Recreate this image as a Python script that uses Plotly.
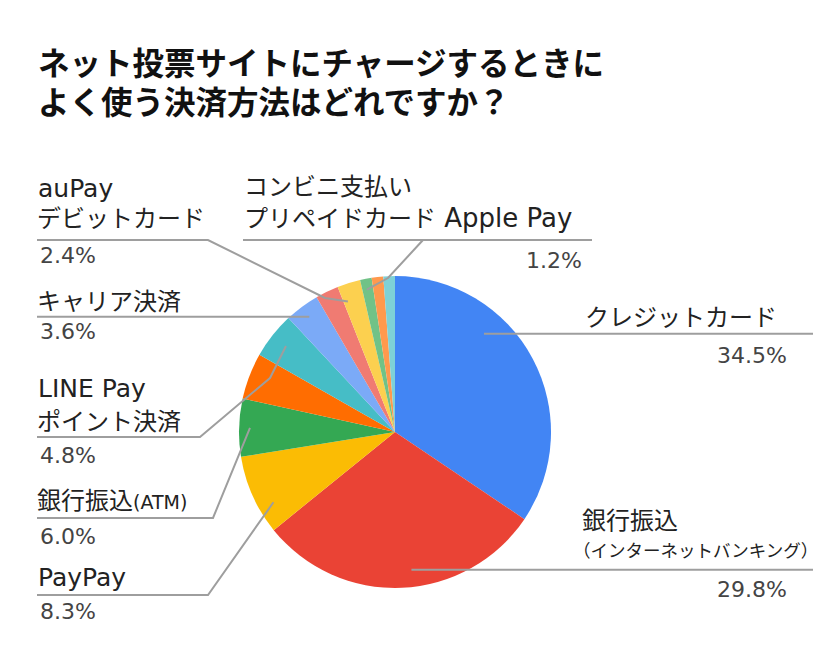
import math
import plotly.graph_objects as go

# data
labels = ["クレジットカード", "銀行振込（インターネットバンキング）", "PayPay", "銀行振込（ATM）",
          "LINE Pay", "ポイント決済", "キャリア決済", "auPay", "デビットカード",
          "コンビニ支払い", "プリペイドカード", "Apple Pay"]
values = [34.5, 29.8, 8.3, 6.0, 4.8, 4.8, 3.6, 2.4, 2.4, 1.2, 1.2, 1.2]
colors = ["#4285F4", "#EA4335", "#FBBC04", "#34A853", "#FF6D01", "#46BDC6",
          "#7BAAF7", "#F07B72", "#FCD04F", "#71C287", "#FF994D", "#7ED1D7"]
title_lines = ["ネット投票サイトにチャージするときに", "よく使う決済方法はどれですか？"]

W, H = 840, 655
CX, CY, R = 395, 432, 156
FONT = "DejaVu Sans, Noto Sans CJK JP, sans-serif"
LINE_COL = "#9E9E9E"


def px(x):
    return x / W


def py(y):
    return 1 - y / H


total = sum(values)
starts = []
acc = 0
for v in values:
    starts.append(acc)
    acc += v


def anchor(i, frac, rf):
    ang = 2 * math.pi * (starts[i] + frac * values[i]) / total
    return CX + rf * R * math.sin(ang), CY - rf * R * math.cos(ang)


def pct(i):
    return f"{values[i]:.1f}%"


fig = go.Figure(go.Pie(
    labels=labels, values=values, sort=False, direction="clockwise", rotation=0,
    marker=dict(colors=colors, line=dict(width=0)),
    textinfo="none", hoverinfo="label+percent", showlegend=False,
    domain=dict(x=[px(CX - R), px(CX + R)], y=[py(CY + R), py(CY - R)]),
))

# callouts: slice to point at, where in the slice, leader path, texts
callouts = [
    dict(s=0, frac=0.34, rf=0.85, path=[("h", 813)],
         texts=[("クレジットカード", 583, 318, 24, "left")],
         p=(789, 355, "right")),
    dict(s=1, frac=0.46, rf=0.89, path=[("h", 813)],
         texts=[("銀行振込", 580, 521, 24, "left"),
                ("（インターネットバンキング）", 571, 551, 17.5, "left")],
         p=(789, 589, "right")),
    dict(s=2, frac=0.3, rf=0.9, path=[(208, 595), (37, 595)],
         texts=[("PayPay", 36, 577, 25, "left")],
         p=(38, 611, "left")),
    dict(s=3, frac=0.5, rf=0.93, path=[(213, 518), (37, 518)],
         texts=[("銀行振込<span style='font-size:19px'>(ATM)</span>", 35, 501, 24, "left")],
         p=(38, 536, "left")),
    dict(s=5, frac=0.5, rf=0.89, path=[(270, 378), (200, 437), (37, 437)],
         texts=[("LINE Pay", 36, 388, 25, "left"), ("ポイント決済", 35, 422, 24, "left")],
         p=(38, 455, "left")),
    dict(s=6, frac=0.5, rf=0.92, path=[("h", 37)],
         texts=[("キャリア決済", 35, 302, 24, "left")],
         p=(38, 331, "left")),
    dict(s=8, frac=0.2, rf=0.89, path=[(325, 298), (208, 240), (37, 240)],
         texts=[("auPay", 36, 189, 25, "left"), ("デビットカード", 35, 219, 24, "left")],
         p=(38, 255, "left")),
    dict(s=9, frac=0.4, rf=0.93, path=[(388, 278), (423, 240)],
         texts=[("コンビニ支払い", 242, 187, 24, "left"),
                ("プリペイドカード<span style='font-size:26px'> Apple Pay</span>", 242, 218, 24, "left")],
         p=(584, 260, "right"), extra=[(243, 240), (592, 240)]),
]

shapes = []
annotations = []
for c in callouts:
    ax, ay = anchor(c["s"], c["frac"], c["rf"])
    pts = [(ax, ay)]
    for q in c["path"]:
        if q[0] == "h":
            pts.append((q[1], pts[-1][1]))
        else:
            pts.append(q)
    segs = [pts]
    if "extra" in c:
        segs.append(c["extra"])
    for seg in segs:
        d = "M " + " L ".join(f"{px(x):.5f},{py(y):.5f}" for x, y in seg)
        shapes.append(dict(type="path", path=d, xref="paper", yref="paper",
                           line=dict(color=LINE_COL, width=2)))
    for t, x, y, size, anc in c["texts"]:
        annotations.append(dict(text=t, x=px(x), y=py(y), xref="paper", yref="paper",
                                xanchor=anc, yanchor="middle", showarrow=False,
                                font=dict(family=FONT, size=size, color="#222222")))
    x, y, anc = c["p"]
    annotations.append(dict(text=pct(c["s"]), x=px(x), y=py(y), xref="paper", yref="paper",
                            xanchor=anc, yanchor="middle", showarrow=False,
                            font=dict(family=FONT, size=22, color="#444444")))

for k, line in enumerate(title_lines):
    annotations.append(dict(text=line, x=px(36), y=py(64 + 39 * k), xref="paper", yref="paper",
                            xanchor="left", yanchor="middle", showarrow=False,
                            font=dict(family=FONT, size=31.5, color="#111111", weight=700)))

fig.update_layout(
    width=W, height=H,
    margin=dict(l=0, r=0, t=0, b=0),
    paper_bgcolor="white", plot_bgcolor="white",
    shapes=shapes, annotations=annotations,
)

fig.write_html("out.html", config={"displayModeBar": False},
               post_script="document.body.style.margin='0';")
